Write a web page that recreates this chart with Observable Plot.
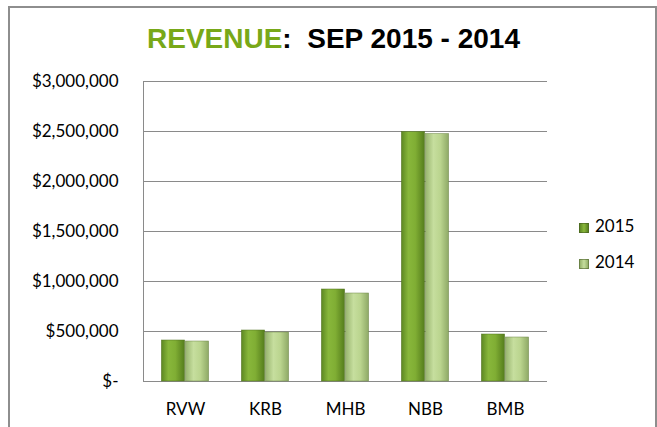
<!DOCTYPE html>
<html>
<head>
<meta charset="utf-8">
<script src="https://cdn.jsdelivr.net/npm/d3@7"></script>
<script src="https://cdn.jsdelivr.net/npm/@observablehq/plot@0.6"></script>
<style>
  html, body { margin: 0; padding: 0; background: #fff; }
  #wrap { position: relative; width: 657px; height: 427px; overflow: hidden; font-family: Lato, sans-serif; }
  #frame { position: absolute; left: 8px; top: 6px; width: 649px; height: 440px; box-sizing: border-box;
           border: 2px solid #8e8e8e; border-bottom: none; pointer-events: none; }
  #title { position: absolute; left: 0; width: 667px; top: 22px; text-align: center;
           font-family: "Liberation Sans", Arial, sans-serif; font-weight: bold; font-size: 28px; line-height: 34px; color: #000; }
  #title .g { color: #78a818; }
  #chart { position: absolute; left: 0; top: 0; }
  .leg { position: absolute; left: 579px; font-family: Lato, sans-serif; font-size: 17px; line-height: 20px; color: #000; white-space: nowrap; }
  .sw { display: inline-block; width: 10px; height: 10px; margin-right: 6px; vertical-align: -1px; box-sizing: border-box; border: 1px solid rgba(60,80,30,0.5); }
</style>
</head>
<body>
<div id="wrap">
  <div id="chart"></div>
  <div id="title"><span class="g">REVENUE</span>:&nbsp; SEP 2015 - 2014</div>
  <div class="leg" style="top:216px"><span class="sw" style="background:linear-gradient(90deg,#5f8a24,#8ab83c,#5a8220)"></span>2015</div>
  <div class="leg" style="top:252px"><span class="sw" style="background:linear-gradient(90deg,#97b36c,#c6de9e,#93af68)"></span>2014</div>
  <div id="frame"></div>
</div>
<script>
const categories = ["RVW", "KRB", "MHB", "NBB", "BMB"];
const revenue2015 = [410000, 510000, 920000, 2495000, 470000];
const revenue2014 = [400000, 490000, 880000, 2475000, 440000];
const seriesNames = ["2015", "2014"];
const yTicks = [0, 500000, 1000000, 1500000, 2000000, 2500000, 3000000];

const rows2015 = categories.map((c, i) => ({cat: c, year: seriesNames[0], value: revenue2015[i]}));
const rows2014 = categories.map((c, i) => ({cat: c, year: seriesNames[1], value: revenue2014[i]}));

const W = 657, H = 427, mL = 143, mR = 110, mT = 81, mB = 46;
const band = (W - mL - mR) / categories.length;
const barW = 24;
const outer = band / 2 - barW;

const fmt = d => d === 0 ? "$-" : "$" + d3.format(",")(d);

const plot = Plot.plot({
  width: W, height: H,
  marginLeft: mL, marginRight: mR, marginTop: mT, marginBottom: mB,
  style: {fontFamily: "Lato, sans-serif", fontSize: "17px", color: "#000", background: "transparent"},
  x: {domain: categories, padding: 0, tickSize: 0, tickPadding: 21, label: null},
  y: {domain: [0, 3000000], ticks: yTicks, tickFormat: fmt, tickSize: 0, tickPadding: 25, label: null},
  marks: [
    Plot.ruleY(yTicks, {stroke: "#8a8a8a", strokeWidth: 1}),
    Plot.barY(rows2015, {x: "cat", y: "value", fill: "url(#g2015)", stroke: "#4f6e1e", strokeWidth: 0.7, strokeOpacity: 0.7, insetLeft: outer, insetRight: band / 2}),
    Plot.barY(rows2014, {x: "cat", y: "value", fill: "url(#g2014)", stroke: "#6c8447", strokeWidth: 0.7, strokeOpacity: 0.7, insetLeft: band / 2, insetRight: outer}),
    Plot.frame({anchor: "left", stroke: "#8a8a8a", strokeWidth: 1})
  ]
});

d3.select(plot).insert("defs", ":first-child").html(`
  <linearGradient id="g2015" x1="0" x2="1" y1="0" y2="0">
    <stop offset="0" stop-color="#5c8722"/>
    <stop offset="0.3" stop-color="#88b73b"/>
    <stop offset="0.6" stop-color="#80ae34"/>
    <stop offset="1" stop-color="#557d1c"/>
  </linearGradient>
  <linearGradient id="g2014" x1="0" x2="1" y1="0" y2="0">
    <stop offset="0" stop-color="#98b46e"/>
    <stop offset="0.35" stop-color="#c6de9e"/>
    <stop offset="0.65" stop-color="#bad48e"/>
    <stop offset="1" stop-color="#8ea966"/>
  </linearGradient>`);

document.getElementById("chart").appendChild(plot);
</script>
</body>
</html>
